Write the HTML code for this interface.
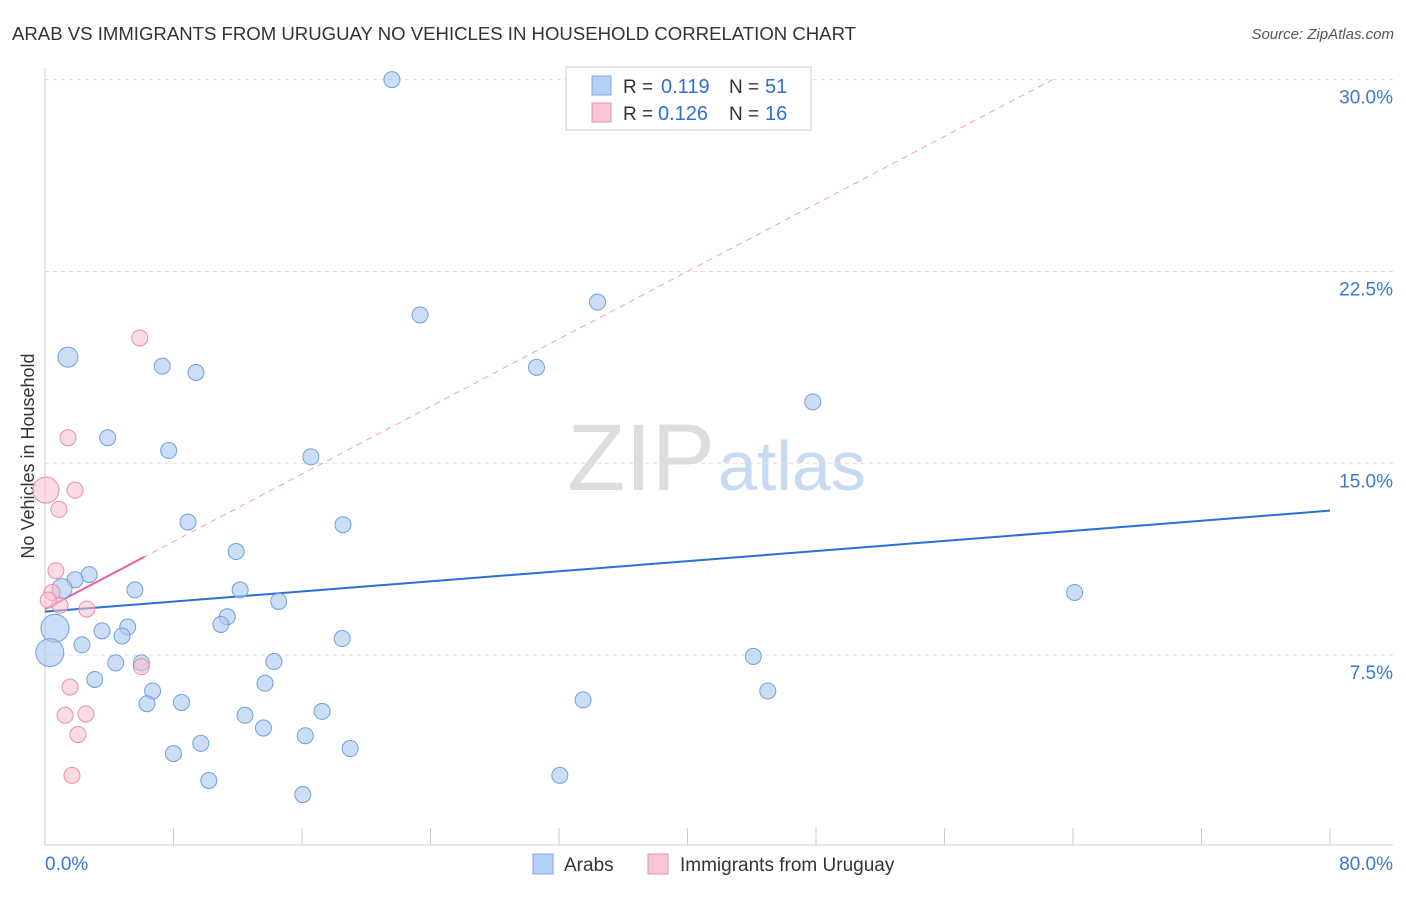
<!DOCTYPE html>
<html><head><meta charset="utf-8"><style>
body{margin:0;background:#fff;font-family:"Liberation Sans",sans-serif;}
svg text{font-family:"Liberation Sans",sans-serif;}
</style></head><body>
<svg id="chart" width="1406" height="892">
<text x="12" y="40" font-size="18" fill="#333" textLength="844" lengthAdjust="spacingAndGlyphs">ARAB VS IMMIGRANTS FROM URUGUAY NO VEHICLES IN HOUSEHOLD CORRELATION CHART</text>
<text x="1394" y="39" font-size="15" fill="#555" font-style="italic" text-anchor="end">Source: ZipAtlas.com</text>
<text x="34" y="456" font-size="18" fill="#333" text-anchor="middle" transform="rotate(-90 34 456)">No Vehicles in Household</text>
<text x="715" y="490" font-size="95" fill="#ddd" text-anchor="end" font-family="Liberation Serif">ZIP</text>
<text x="718" y="490" font-size="70" fill="#c8daf2">atlas</text>
<g id="grid"></g><g id="axes"></g><g id="lines"></g><g id="points"></g>
<g>
<rect x="566" y="67" width="245" height="63" fill="#fff" stroke="#ccc"/>
<rect x="592" y="76" width="19" height="19" fill="#b4d0f4" stroke="#7aaae0"/>
<text x="623" y="93" font-size="19" fill="#333">R =</text>
<text x="661" y="93" font-size="20" fill="#2f6fd0">0.119</text>
<text x="729" y="93" font-size="19" fill="#333">N =</text>
<text x="765" y="93" font-size="20" fill="#2f6fd0">51</text>
<rect x="592" y="103" width="19" height="19" fill="#f9c6d4" stroke="#e890a8"/>
<text x="623" y="120" font-size="19" fill="#333">R =</text>
<text x="658" y="120" font-size="20" fill="#2f6fd0">0.126</text>
<text x="729" y="120" font-size="19" fill="#333">N =</text>
<text x="765" y="120" font-size="20" fill="#2f6fd0">16</text>
</g>
<g>
<rect x="533" y="854" width="20" height="20" fill="#b4d0f4" stroke="#7aaae0"/>
<text x="564" y="871" font-size="19" fill="#333">Arabs</text>
<rect x="648" y="854" width="20" height="20" fill="#f9c6d4" stroke="#e890a8"/>
<text x="680" y="871" font-size="19" fill="#333">Immigrants from Uruguay</text>
</g>
</svg>
<script>
const yTicks=[7.5,15,22.5,30];
const yTickLabels=["7.5%","15.0%","22.5%","30.0%"];
const arabX=[21.6,23.35,34.4,30.6,47.8,1.43,7.3,9.4,3.9,7.7,16.55,8.9,18.55,11.9,2.75,1.87,1.06,5.6,12.15,14.55,11.35,10.95,5.15,3.55,4.8,18.5,2.3,0.62,0.3,6.0,4.4,14.25,44.1,3.1,13.7,6.7,45.0,8.5,6.35,33.5,12.45,17.25,13.6,16.2,9.7,19.0,8.0,32.05,10.2,16.05,64.1];
const arabY=[30.0,20.8,21.3,18.75,17.4,19.15,18.8,18.55,16.0,15.5,15.25,12.7,12.6,11.55,10.65,10.45,10.1,10.05,10.05,9.6,9.0,8.7,8.6,8.45,8.25,8.15,7.9,8.55,7.6,7.2,7.2,7.25,7.45,6.55,6.4,6.1,6.1,5.65,5.6,5.75,5.15,5.3,4.65,4.35,4.05,3.85,3.65,2.8,2.6,2.05,9.95];
const arabSize=[8,8,8,8,8,10,8,8,8,8,8,8,8,8,8,8,10,8,8,8,8,8,8,8,8,8,8,14,14,8,8,8,8,8,8,8,8,8,8,8,8,8,8,8,8,8,8,8,8,8,8];
const uruX=[5.9,1.43,0.06,1.87,0.87,0.68,0.44,0.93,2.6,6.0,1.56,1.25,2.55,2.05,1.68,0.2];
const uruY=[19.9,16.0,13.95,13.95,13.2,10.8,9.95,9.45,9.3,7.05,6.25,5.15,5.2,4.4,2.8,9.65];
const uruSize=[8,8,13,8,8,8,8,8,8,8,8,8,8,8,8,8];
const arabTrend=[9.2,13.15];
const uruTrend=[9.3,0.33];
const X=v=>45+v*16.0625, Y=v=>847-v*25.58;
const NS="http://www.w3.org/2000/svg";
function mk(p,t,a){const e=document.createElementNS(NS,t);for(const k in a)e.setAttribute(k,a[k]);p.appendChild(e);return e;}
const grid=document.getElementById('grid'),axes=document.getElementById('axes'),lines=document.getElementById('lines'),pts=document.getElementById('points');
yTicks.forEach((t,i)=>{
 const l=mk(grid,'line',{x1:45,x2:1393,y1:Y(t),y2:Y(t),stroke:'#ddd','stroke-dasharray':'4 4'});
 
 
 const tx=mk(axes,'text',{x:1393,y:Y(t)+24,'font-size':19,fill:'#3a78d0','text-anchor':'end'});
 tx.textContent=yTickLabels[i];
 
 
});
mk(axes,'line',{x1:45,x2:45,y1:68,y2:845,stroke:'#ccc'});
mk(axes,'line',{x1:45,x2:1393,y1:845,y2:845,stroke:'#ccc'});
for(let i=0;i<=10;i++){const x=X(i*8);const tk=mk(axes,'line',{x1:x,x2:x,y1:828,y2:845,stroke:'#ccc'});
 
 }
const xl0=mk(axes,'text',{x:45,y:870,'font-size':19,fill:'#3a78d0'});xl0.textContent='0.0%';


const xl1=mk(axes,'text',{x:1393,y:870,'font-size':19,fill:'#3a78d0','text-anchor':'end'});xl1.textContent='80.0%';


const ux=(30-uruTrend[0])/uruTrend[1];
const ud=mk(lines,'line',{x1:X(0),y1:Y(uruTrend[0]),x2:X(ux),y2:Y(30),stroke:'#f0a0b8','stroke-dasharray':'6 5','stroke-width':1});


const us=mk(lines,'line',{x1:X(0),y1:Y(uruTrend[0]),x2:X(6.2),y2:Y(uruTrend[0]+uruTrend[1]*6.2),stroke:'#e8609a','stroke-width':2});


const at=mk(lines,'line',{x1:X(0),y1:Y(arabTrend[0]),x2:X(80),y2:Y(arabTrend[1]),stroke:'#2c6fd6','stroke-width':2});


arabX.forEach((v,i)=>{const c=mk(pts,'circle',{cx:X(v),cy:Y(arabY[i]),r:arabSize[i],fill:'rgba(170,200,240,0.6)',stroke:'#6fa0dc','stroke-width':1});
 
 });
uruX.forEach((v,i)=>{const c=mk(pts,'circle',{cx:X(v),cy:Y(uruY[i]),r:uruSize[i],fill:'rgba(248,190,206,0.55)',stroke:'#e890a8','stroke-width':1});
 
 });
</script>
</body></html>
